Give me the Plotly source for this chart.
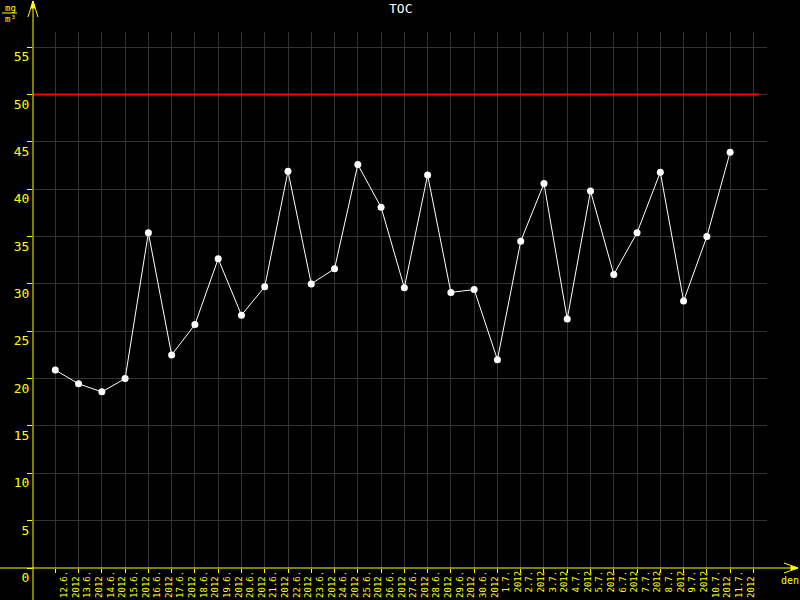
import plotly.graph_objects as go

dates = ["12.6.", "13.6.", "14.6.", "15.6.", "16.6.", "17.6.", "18.6.", "19.6.", "20.6.", "21.6.",
         "22.6.", "23.6.", "24.6.", "25.6.", "26.6.", "27.6.", "28.6.", "29.6.", "30.6.",
         "1.7.", "2.7.", "3.7.", "4.7.", "5.7.", "6.7.", "7.7.", "8.7.", "9.7.", "10.7.", "11.7."]
year = "2012"
toc = [20.9, 19.45, 18.6, 20.0, 35.4, 22.5, 25.7, 32.65, 26.7, 29.7,
       41.9, 30.0, 31.6, 42.6, 38.1, 29.6, 41.5, 29.1, 29.4,
       22.0, 34.5, 40.6, 26.3, 39.8, 31.0, 35.4, 41.8, 28.2, 35.0, 43.9]
limit = 50
y_ticks = [0, 5, 10, 15, 20, 25, 30, 35, 40, 45, 50, 55]

W, H = 800, 600
L, R, T, B = 33, 33, 32, 32
pw, ph = W - L - R, H - T - B

def px(x):
    return (x - L) / pw

def py(y):
    return (H - B - y) / ph

idx = list(range(len(toc)))
yellow = "#ffff00"
grid = "#333333"
mono = "DejaVu Sans Mono"

def tick_label(d):
    n = max(len(d), len(year))
    return d + "\u00a0" * (n - len(d)) + "<br>" + year + "\u00a0" * (n - len(year))

fig = go.Figure()
fig.add_trace(go.Scatter(
    x=idx, y=toc, mode="lines+markers",
    line=dict(color="white", width=1),
    marker=dict(color="white", size=7),
    hoverinfo="skip", showlegend=False,
))

shapes = []
shapes.append(dict(type="line", xref="paper", yref="y", x0=0, x1=px(759), y0=limit, y1=limit,
                   line=dict(color="#ff0000", width=2)))
shapes.append(dict(type="line", xref="paper", yref="paper", x0=px(33), x1=px(33), y0=py(600), y1=py(1),
                   line=dict(color=yellow, width=1)))
shapes.append(dict(type="line", xref="paper", yref="paper", x0=px(0), x1=px(797), y0=py(568), y1=py(568),
                   line=dict(color=yellow, width=1)))

def path(points):
    return "M " + " L ".join(f"{px(a):.5f},{py(b):.5f}" for a, b in points)

shapes.append(dict(type="path", xref="paper", yref="paper", path=path([(28, 17), (33, 1), (38, 17)]),
                   line=dict(color=yellow, width=1)))
shapes.append(dict(type="path", xref="paper", yref="paper", path=path([(31, 8), (33, 1), (35, 8)]) + " Z",
                   line=dict(color=yellow, width=1), fillcolor=yellow))
shapes.append(dict(type="path", xref="paper", yref="paper", path=path([(784, 563), (798, 568), (784, 573)]),
                   line=dict(color=yellow, width=1)))
shapes.append(dict(type="path", xref="paper", yref="paper", path=path([(791, 566), (798, 568), (791, 570)]) + " Z",
                   line=dict(color=yellow, width=1), fillcolor=yellow))
shapes.append(dict(type="line", xref="paper", yref="paper", x0=px(2), x1=px(17), y0=py(13), y1=py(13),
                   line=dict(color=yellow, width=1)))

annotations = [
    dict(text="mg", xref="paper", yref="paper", x=px(10), y=py(8), showarrow=False,
         font=dict(family=mono, size=9, color=yellow), xanchor="center", yanchor="middle"),
    dict(text="m³", xref="paper", yref="paper", x=px(10), y=py(19), showarrow=False,
         font=dict(family=mono, size=9, color=yellow), xanchor="center", yanchor="middle"),
    dict(text="den", xref="paper", yref="paper", x=px(790), y=py(580), showarrow=False,
         font=dict(family=mono, size=10, color=yellow), xanchor="center", yanchor="middle"),
    dict(text="TOC", xref="paper", yref="paper", x=0.5, y=py(8), showarrow=False,
         font=dict(family=mono, size=13, color="white"), xanchor="center", yanchor="middle"),
]

x0 = -(55.3 - L) / 23.27
x1 = x0 + pw / 23.27

fig.update_layout(
    width=W, height=H,
    margin=dict(l=L, r=R, t=T, b=B, pad=0, autoexpand=False),
    paper_bgcolor="black", plot_bgcolor="black",
    shapes=shapes, annotations=annotations,
    xaxis=dict(
        range=[x0, x1], showline=False, zeroline=False, automargin=False,
        tickmode="array", tickvals=[i + 0.63 for i in idx],
        ticktext=[tick_label(d) for d in dates],
        tickangle=-90, ticks="", showgrid=False,
        tickfont=dict(family=mono, size=9, color=yellow),
        minor=dict(tickmode="linear", tick0=0, dtick=1, ticks="outside", ticklen=4,
                   tickcolor=yellow, showgrid=True, gridcolor=grid, gridwidth=1),
    ),
    yaxis=dict(
        range=[0, ph / 9.47], showline=False, zeroline=False, automargin=False,
        tickmode="array", tickvals=y_ticks, ticktext=[str(v) for v in y_ticks],
        ticks="outside", ticklen=5, tickcolor=yellow,
        showgrid=True, gridcolor=grid, gridwidth=1,
        ticklabelposition="outside bottom",
        tickfont=dict(family=mono, size=13, color=yellow),
    ),
)

fig.write_html("out.html", config={"displayModeBar": False},
               post_script="document.body.style.margin='0';document.body.style.overflow='hidden';")
